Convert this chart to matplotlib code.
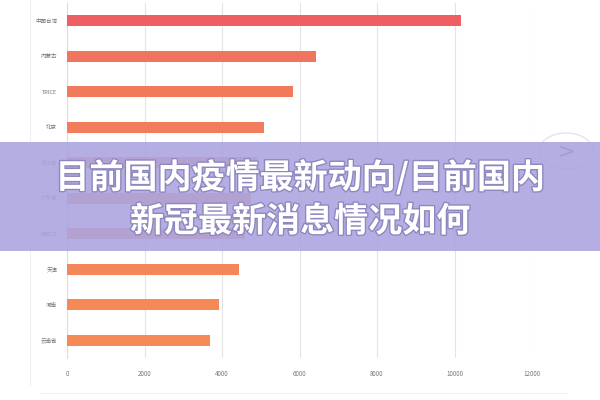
import matplotlib.pyplot as plt
import matplotlib.patheffects as pe
from matplotlib.patches import Rectangle, Circle
from matplotlib.lines import Line2D

plt.rcParams['font.family'] = ['Noto Sans CJK SC', 'DejaVu Sans']

# data, top to bottom
labels = ["中国台湾", "内蒙古", "TRICE", "北京", "浙江省", "广东省", "黑龙江", "天津", "河南", "云南省"]
values = [10170, 6430, 5830, 5080, 4900, 4750, 4590, 4440, 3920, 3680]
bar_colors = ["#ee5e62", "#f0745f", "#f17a5d", "#f27d5c", "#f3805b",
              "#f3825a", "#f4845a", "#f48759", "#f58958", "#f58a57"]
xticks = [0, 2000, 4000, 6000, 8000, 10000, 12000]
title = "目前国内疫情最新动向/目前国内\n新冠最新消息情况如何"

W, H = 600, 400
fig = plt.figure(figsize=(6, 4), dpi=100)
fig.patch.set_facecolor("white")

# plot area in pixel coords
left, right, top, bottom = 67, 532, 3, 358
ax = fig.add_axes([left / W, 1 - bottom / H, (right - left) / W, (bottom - top) / H])

ypos = list(range(len(labels)))
ax.barh(ypos, values, height=0.31, color=bar_colors, zorder=3)
ax.set_ylim(len(labels) - 0.5, -0.5)
ax.set_xlim(0, 12000)
ax.set_yticks(ypos)
ax.set_yticklabels(labels, fontsize=4, color="#777777")
ax.set_xticks(xticks)
ax.set_xticklabels([str(t) for t in xticks], fontsize=4.5, color="#777777")
ax.tick_params(length=0, pad=7)
ax.tick_params(axis="x", pad=9)
ax.grid(axis="x", color="#e4e4e4", linewidth=0.8, zorder=0)
for s in ["top", "right", "bottom"]:
    ax.spines[s].set_visible(False)
ax.spines["left"].set_color("#dddddd")
ax.spines["left"].set_linewidth(0.8)

# faint card border
fig.add_artist(Line2D([30 / W, 30 / W], [1 - 385 / H, 1.0], color="#f0f0f0", lw=0.8))
fig.add_artist(Line2D([40 / W, 567 / W], [1 - 393 / H, 1 - 393 / H], color="#f0f0f0", lw=0.8))

# carousel arrow
fig.add_artist(Circle((566 / W, 1 - 151 / H), 18 / H, transform=fig.transFigure,
                      facecolor="white", edgecolor="#e2e2e2", lw=0.9, zorder=4))
fig.text(566 / W, 1 - 152 / H, ">", fontsize=15, color="#555560", ha="center", va="center",
         family="DejaVu Sans", zorder=5)

# banner overlay
fig.add_artist(Rectangle((0, 1 - 251 / H), 1, 109 / H, transform=fig.transFigure,
                         facecolor="#aca5df", alpha=0.9, edgecolor="none", zorder=6))
fig.text(0.5, 1 - 199 / H, title, fontsize=24.5, fontweight="black", color="white",
         ha="center", va="center", linespacing=1.3, zorder=7,
         path_effects=[pe.withStroke(linewidth=2, foreground="#8e88c0")])

fig.savefig("out.png", dpi=100)
